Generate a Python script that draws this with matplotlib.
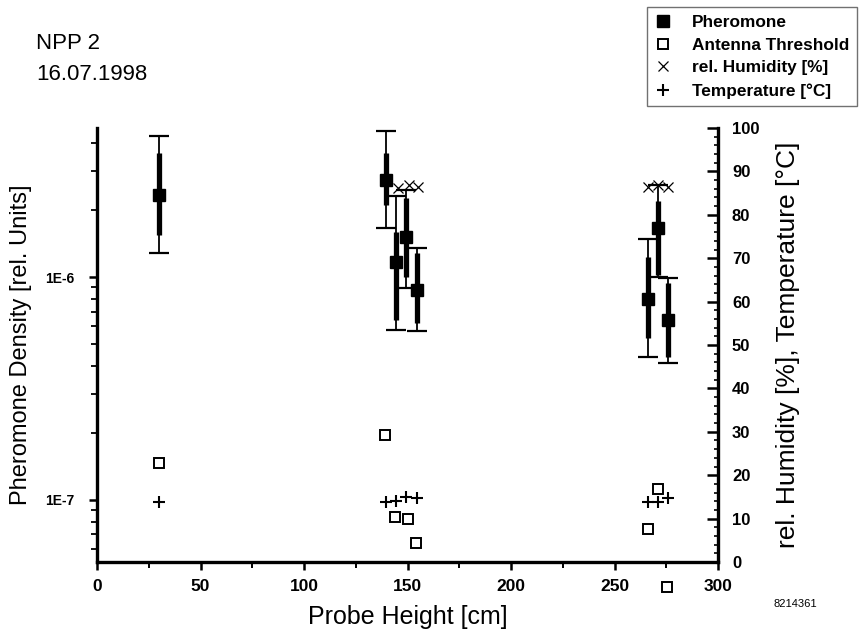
import matplotlib
matplotlib.use("Agg")
import matplotlib.pyplot as plt
from matplotlib.ticker import MultipleLocator, LogLocator, NullFormatter, FixedLocator, FixedFormatter

plt.rcParams['font.family'] = ['Liberation Sans', 'DejaVu Sans']

# Pheromone density per probe height: mean, full range and inner spread
height = [30, 139.5, 144.5, 149.5, 154.5, 266, 271, 276]
pheromone = [2.33e-6, 2.72e-6, 1.17e-6, 1.51e-6, 8.7e-7, 8.0e-7, 1.66e-6, 6.4e-7]
pher_min = [1.28e-6, 1.66e-6, 5.8e-7, 8.9e-7, 5.7e-7, 4.4e-7, 1.0e-6, 4.1e-7]
pher_max = [4.28e-6, 4.52e-6, 2.31e-6, 2.45e-6, 1.35e-6, 1.48e-6, 2.59e-6, 9.9e-7]
pher_sd_lo = [1.54e-6, 2.1e-6, 6.4e-7, 1.0e-6, 6.2e-7, 5.3e-7, 1.02e-6, 4.4e-7]
pher_sd_hi = [3.6e-6, 3.6e-6, 1.59e-6, 2.26e-6, 1.28e-6, 1.23e-6, 2.2e-6, 9.4e-7]

# Antenna threshold
thr_height = [30, 139, 144, 150, 154, 266, 271, 275.5]
threshold = [1.47e-7, 1.95e-7, 8.4e-8, 8.2e-8, 6.4e-8, 7.4e-8, 1.12e-7, 4.07e-8]

# Relative humidity [%]
hum_height = [145.5, 150.5, 155, 266, 271, 276]
humidity = [86.2, 86.9, 86.4, 86.5, 86.8, 86.4]

# Temperature [deg C]
temp_height = [30, 139.5, 144.5, 149.5, 154.5, 266, 271, 276]
temperature = [13.8, 13.8, 14.1, 15.0, 14.7, 13.8, 13.8, 14.7]

x_ticks = [0, 50, 100, 150, 200, 250, 300]
right_ticks = list(range(0, 101, 10))

fig = plt.figure(figsize=(8.6, 6.34), dpi=100)
ax = fig.add_axes([0.1128, 0.1136, 0.7221, 0.6845])
ax2 = ax.twinx()

ax.set_yscale('log')
ax.set_xlim(0, 300)
ax.set_ylim(5.27e-8, 4.66e-6)
ax2.set_ylim(0, 100)

# full range with caps
ax.errorbar(height, pheromone,
            yerr=[[p - lo for p, lo in zip(pheromone, pher_min)],
                  [hi - p for p, hi in zip(pheromone, pher_max)]],
            fmt='none', ecolor='k', elinewidth=1.3, capsize=7, capthick=1.6, zorder=3)
# inner spread, heavier stroke
ax.vlines(height, pher_sd_lo, pher_sd_hi, colors='k', linewidth=3.8, zorder=3)
h_pher, = ax.plot(height, pheromone, 's', color='k', ms=8, zorder=4, label='Pheromone')
h_thr, = ax.plot(thr_height, threshold, 's', mfc='white', mec='k', mew=1.4, ms=7.5,
                 linestyle='none', clip_on=False, zorder=4, label='Antenna Threshold')

h_hum, = ax2.plot(hum_height, humidity, 'x', color='k', ms=6.5, mew=0.9,
                  linestyle='none', zorder=5, label='rel. Humidity [%]')
h_tmp, = ax2.plot(temp_height, temperature, '+', color='k', ms=8, mew=1.5,
                  linestyle='none', zorder=5, label='Temperature [°C]')

# spines
for a in (ax, ax2):
    a.spines['top'].set_visible(False)
    a.set_facecolor('none')
for s in ('left', 'bottom'):
    ax.spines[s].set_linewidth(2.4)
ax2.spines['right'].set_linewidth(2.4)
ax.spines['right'].set_visible(False)
ax2.spines['left'].set_visible(False)
ax2.spines['bottom'].set_visible(False)

# x axis
ax.xaxis.set_major_locator(FixedLocator(x_ticks))
ax.xaxis.set_minor_locator(MultipleLocator(25))
ax.tick_params(axis='x', which='major', direction='out', length=6, width=1.8,
               labelsize=12.5, pad=6)
ax.tick_params(axis='x', which='minor', direction='out', length=4, width=1.4)
for lab in ax.get_xticklabels():
    lab.set_fontweight('bold')

# left log axis
ax.yaxis.set_major_locator(FixedLocator([1e-7, 1e-6]))
ax.yaxis.set_major_formatter(FixedFormatter(['1E-7', '1E-6']))
ax.yaxis.set_minor_locator(LogLocator(base=10, subs=range(2, 10)))
ax.yaxis.set_minor_formatter(NullFormatter())
ax.tick_params(axis='y', which='major', direction='out', length=6, width=1.8,
               labelsize=10, pad=10)
ax.tick_params(axis='y', which='minor', direction='out', length=4, width=1.3)
for lab in ax.get_yticklabels():
    lab.set_fontweight('bold')

# right linear axis
ax2.yaxis.set_major_locator(FixedLocator(right_ticks))
ax2.yaxis.set_minor_locator(MultipleLocator(2))
ax2.tick_params(axis='y', which='major', direction='in', length=8, width=1.8,
                labelsize=12, pad=10)
ax2.tick_params(axis='y', which='minor', direction='in', length=3, width=1.2)
for lab in ax2.get_yticklabels():
    lab.set_fontweight('bold')

ax.set_xlabel('Probe Height [cm]', fontsize=18, labelpad=8)
ax.set_ylabel('Pheromone Density [rel. Units]', fontsize=17, labelpad=10)
ax2.set_ylabel('rel. Humidity [%], Temperature [°C]', fontsize=19, labelpad=12)

fig.text(0.042, 0.932, 'NPP 2', fontsize=16, ha='left', va='center')
fig.text(0.042, 0.882, '16.07.1998', fontsize=16, ha='left', va='center')
fig.text(0.925, 0.048, '8214361', fontsize=8, ha='center', va='center')

leg = fig.legend(handles=[h_pher, h_thr, h_hum, h_tmp],
                 loc='upper left', bbox_to_anchor=(0.752, 0.989),
                 borderaxespad=0, frameon=True, fancybox=False,
                 prop={'size': 12.4, 'weight': 'bold'},
                 handlelength=1.0, handletextpad=1.2, labelspacing=0.45,
                 borderpad=0.45)
leg.get_frame().set_edgecolor('0.3')
leg.get_frame().set_linewidth(1.0)

fig.savefig('out.png', dpi=100)
